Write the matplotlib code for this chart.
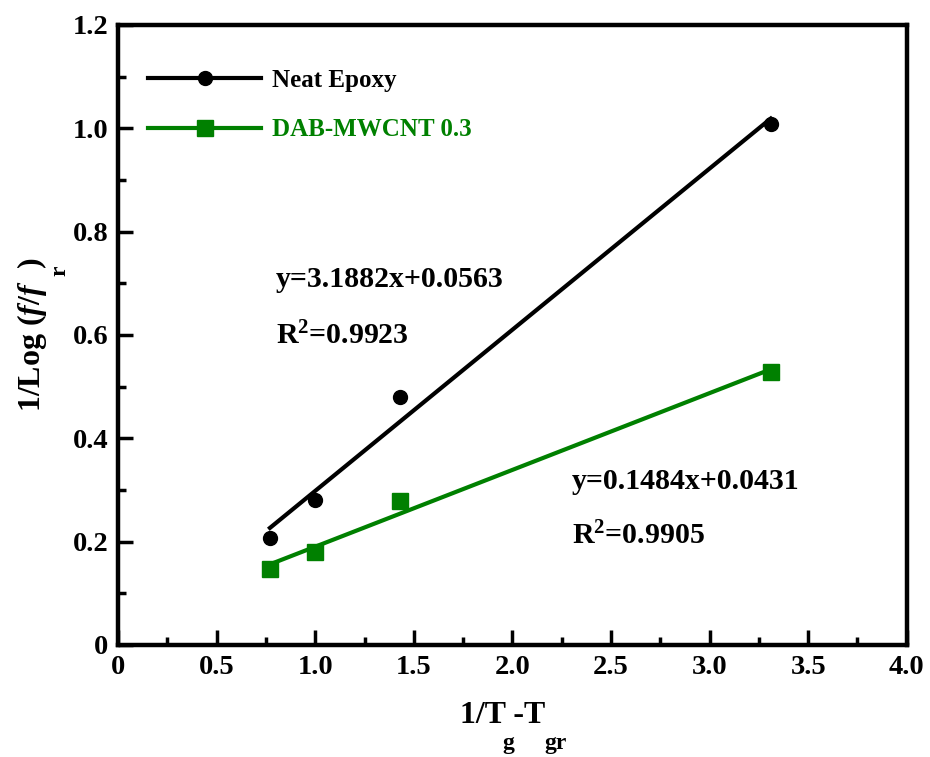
import numpy as np
import matplotlib
matplotlib.use('Agg')
import matplotlib.pyplot as plt
from matplotlib.ticker import MultipleLocator, FuncFormatter

plt.rcParams['font.family'] = 'Liberation Serif'
plt.rcParams['font.weight'] = 'bold'
plt.rcParams['axes.labelweight'] = 'bold'
plt.rcParams['mathtext.fontset'] = 'custom'
plt.rcParams['mathtext.rm'] = 'Liberation Serif:bold'
plt.rcParams['mathtext.bf'] = 'Liberation Serif:bold'
plt.rcParams['mathtext.it'] = 'Liberation Serif:italic:bold'

# 1/(Tg - Tgr) values and 1/log(f/fr) for each sample
x_vals = [0.77, 1.0, 1.43, 3.31]
neat_epoxy = [0.207, 0.281, 0.48, 1.008]
dab_mwcnt = [0.147, 0.18, 0.279, 0.528]

labels = ['Neat Epoxy', 'DAB-MWCNT 0.3']
colors = ['black', '#008000']
markers = ['o', 's']
marker_sizes = [10, 11]
fit_text = [('y=3.1882x+0.0563', 'R$^{\\mathbf{2}}$=0.9923'),
            ('y=0.1484x+0.0431', 'R$^{\\mathbf{2}}$=0.9905')]
text_pos = [(0.80, 0.693, 0.581), (2.30, 0.302, 0.195)]

fig = plt.figure(figsize=(9.3, 7.57), dpi=100)
ax = fig.add_axes([0.127, 0.148, 0.848, 0.819])

x = np.array(x_vals)
for y, lab, c, m, ms in zip([neat_epoxy, dab_mwcnt], labels, colors, markers, marker_sizes):
    y = np.array(y)
    # linear fit drawn over the measured range
    k, b = np.polyfit(x, y, 1)
    ax.plot(x, y, linestyle='none', marker=m, color=c, markersize=ms)
    ax.plot([x.min(), x.max()], [k * x.min() + b, k * x.max() + b], color=c, lw=3)
    # legend proxy: line with marker in the middle
    ax.plot([], [], color=c, lw=3, marker=m, markersize=ms, label=lab)

for (eq, r2), (tx, ty1, ty2), c in zip(fit_text, text_pos, colors):
    ax.text(tx, ty1, eq, fontsize=21.5, fontweight='bold', va='baseline')
    ax.text(tx, ty2, r2, fontsize=21.5, fontweight='bold', va='baseline')

ax.set_xlim(0, 4.0)
ax.set_ylim(0, 1.2)
ax.xaxis.set_major_locator(MultipleLocator(0.5))
ax.xaxis.set_minor_locator(MultipleLocator(0.25))
ax.yaxis.set_major_locator(MultipleLocator(0.2))
ax.yaxis.set_minor_locator(MultipleLocator(0.1))
fmt = FuncFormatter(lambda v, p: '0' if abs(v) < 1e-9 else '%.1f' % v)
ax.xaxis.set_major_formatter(fmt)
ax.yaxis.set_major_formatter(fmt)
ax.tick_params(which='both', direction='in', width=2.5, labelsize=20.5, top=False, right=False)
ax.tick_params(which='major', length=11, pad=7)
ax.tick_params(which='minor', length=6)
for s in ax.spines.values():
    s.set_linewidth(3.2)

# axis titles with low-set subscripts placed as separate texts
yl = ax.set_ylabel('1/Log ($\\mathit{f/f}$  )', fontsize=23, labelpad=17)
ax.annotate('r', xy=(1.0, 0.915), xycoords=yl, xytext=(0, 0), textcoords='offset points',
            fontsize=17, rotation=90, ha='left', va='center')
xl = ax.set_xlabel('1/T -T', fontsize=23)
ax.xaxis.set_label_coords(0.487, -0.09)
ax.annotate('g', xy=(0.5, 0.0), xycoords=xl, xytext=(0, -2), textcoords='offset points',
            fontsize=17, ha='left', va='top')
ax.annotate('gr', xy=(1.0, 0.0), xycoords=xl, xytext=(0, -2), textcoords='offset points',
            fontsize=17, ha='left', va='top')

leg = ax.legend(loc='upper left', bbox_to_anchor=(0.01, 0.965), frameon=False, fontsize=18,
                handlelength=4.5, handletextpad=0.45, labelspacing=1.05, labelcolor='linecolor')

fig.savefig('out.png', dpi=100)
